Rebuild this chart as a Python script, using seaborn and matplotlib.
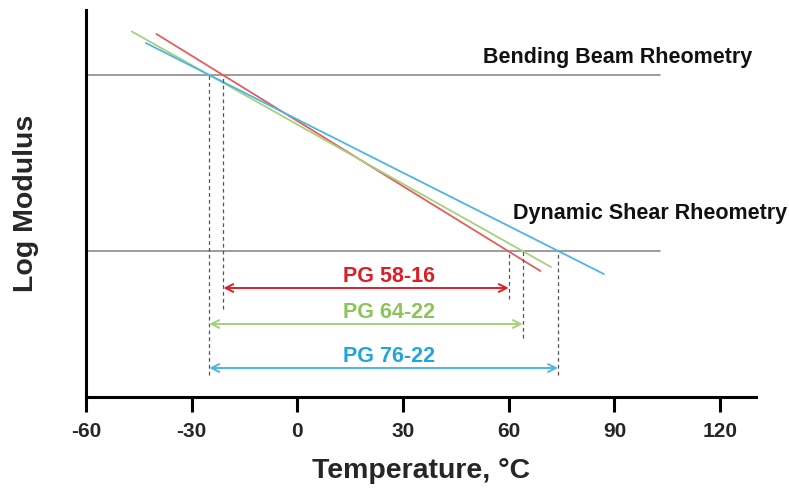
import matplotlib
matplotlib.use("Agg")
import matplotlib.pyplot as plt
import seaborn as sns
import pandas as pd

XTICKS = [-60, -30, 0, 30, 60, 90, 120]

# reference levels of the two rheometers
BBR_LEVEL = 32.2
DSR_LEVEL = 14.6
REF_T = [-60, 103]

# modulus-temperature lines of the three grades
red_T = [-40, 69]
red_logG = [36.3, 12.6]
green_T = [-47, 72]
green_logG = [36.55, 13.0]
blue_T = [-43, 87]
blue_logG = [35.4, 12.3]

# temperature ranges (low, high) and where their arrows sit
grades = ["PG 58-16", "PG 64-22", "PG 76-22"]
low_T = [-21, -25, -25]
high_T = [60, 64, 74]
arrow_y = [10.9, 7.3, 2.9]
label_y = [12.0, 8.4, 4.0]

# dashed guide lines: x, top, bottom
guide_x = [-25, -21, 60, 64, 74]
guide_top = [BBR_LEVEL, BBR_LEVEL, DSR_LEVEL, DSR_LEVEL, DSR_LEVEL]
guide_bottom = [2.2, 8.8, 9.8, 5.9, 2.2]

LINE_COLORS = ["#e35d5d", "#a5d27a", "#4cb6e4"]
TEXT_COLORS = ["#dc1f26", "#8cc45a", "#1fa6df"]

sns.set_style("white")
plt.rcParams['font.family'] = ['Liberation Sans', 'DejaVu Sans']
plt.rcParams['font.weight'] = 'bold'

fig = plt.figure(figsize=(7.89, 4.93), dpi=100)
ax = fig.add_axes([86 / 789, 96 / 493, 670 / 789, 387 / 493])

# horizontal reference lines
for lvl in [BBR_LEVEL, DSR_LEVEL]:
    ref = pd.DataFrame({"T": REF_T, "G": [lvl, lvl]})
    sns.lineplot(data=ref, x="T", y="G", ax=ax, color="#8c8c8c", lw=1.2)

# grade lines
for T, G, c in [(red_T, red_logG, LINE_COLORS[0]),
                (green_T, green_logG, LINE_COLORS[1]),
                (blue_T, blue_logG, LINE_COLORS[2])]:
    sns.lineplot(x=T, y=G, ax=ax, color=c, lw=1.3)

# dashed guides
ax.vlines(guide_x, guide_bottom, guide_top, colors="#555555",
          linestyles=(0, (3, 2.5)), lw=0.9)

# range arrows and labels
for i, g in enumerate(grades):
    ax.annotate("", xy=(high_T[i], arrow_y[i]), xytext=(low_T[i], arrow_y[i]),
                arrowprops=dict(arrowstyle="<->", color=LINE_COLORS[i] if i else TEXT_COLORS[0],
                                lw=1.4, shrinkA=0, shrinkB=0,
                                mutation_scale=14))
    ax.text(26, label_y[i], g, color=TEXT_COLORS[i], fontsize=15.5,
            fontweight="bold", ha="center", va="center")

ax.text(129.1, 33.9, "Bending Beam Rheometry", fontsize=15.5, fontweight="bold",
        ha="right", va="center", color="#111111")
ax.text(139, 18.4, "Dynamic Shear Rheometry", fontsize=15.5, fontweight="bold",
        ha="right", va="center", color="#111111", clip_on=False)

ax.set_xlim(-60, 130.2)
ax.set_ylim(0, 38.7)
ax.set_xticks(XTICKS)
ax.set_xticklabels([str(t) for t in XTICKS], fontsize=15, fontweight="bold")
ax.set_yticks([])
ax.tick_params(axis="x", direction="out", length=11, width=2.2, pad=7,
               bottom=True, color="black")
sns.despine(ax=ax, top=True, right=True)
for s in ["left", "bottom"]:
    ax.spines[s].set_linewidth(2.2)
    ax.spines[s].set_color("black")

ax.set_xlabel("Temperature, °C", fontsize=20.5, fontweight="bold", labelpad=12)
ax.set_ylabel("Log Modulus", fontsize=20.5, fontweight="bold", labelpad=34)

fig.savefig("out.png", dpi=100)
